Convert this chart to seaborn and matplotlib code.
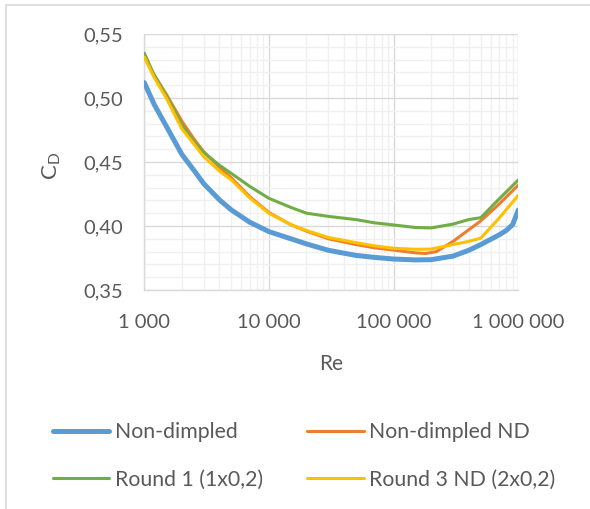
import numpy as np
import pandas as pd
import matplotlib
matplotlib.use("Agg")
import matplotlib.pyplot as plt
import matplotlib.ticker as mticker
from matplotlib.lines import Line2D
import seaborn as sns

# ---- data ----
re_blue = [1000, 1200, 1500, 2000, 2500, 3000, 4000, 5000, 7000, 10000, 15000, 20000, 30000, 50000,
           70000, 100000, 150000, 200000, 300000, 400000, 500000, 700000, 800000, 900000, 1000000]
cd_blue = [0.512, 0.495, 0.478, 0.456, 0.4435, 0.433, 0.4205, 0.4125, 0.403, 0.3956, 0.390, 0.386, 0.381, 0.377,
           0.3755, 0.3742, 0.3735, 0.3737, 0.3765, 0.381, 0.3855, 0.393, 0.3965, 0.401, 0.4125]

re_orange = [1000, 1200, 1500, 2000, 2500, 3000, 4000, 5000, 7000, 10000, 15000, 20000, 30000, 50000,
             70000, 100000, 150000, 180000, 220000, 300000, 400000, 500000, 700000, 1000000]
cd_orange = [0.532, 0.518, 0.503, 0.482, 0.468, 0.458, 0.446, 0.4375, 0.423, 0.4105, 0.401, 0.396, 0.390, 0.3855,
             0.383, 0.3812, 0.379, 0.3785, 0.380, 0.388, 0.397, 0.404, 0.417, 0.432]

re_green = [1000, 1200, 1500, 2000, 2500, 3000, 4000, 5000, 7000, 10000, 15000, 20000, 30000, 50000,
            70000, 100000, 150000, 200000, 300000, 400000, 500000, 700000, 1000000]
cd_green = [0.535, 0.518, 0.502, 0.479, 0.466, 0.4575, 0.4475, 0.441, 0.431, 0.4216, 0.4145, 0.410, 0.4075, 0.405,
            0.4025, 0.4008, 0.3988, 0.3985, 0.4015, 0.405, 0.4065, 0.421, 0.436]

re_yellow = [1000, 1200, 1500, 2000, 2500, 3000, 4000, 5000, 7000, 10000, 15000, 20000, 30000, 50000,
             70000, 100000, 150000, 200000, 300000, 400000, 500000, 700000, 1000000]
cd_yellow = [0.532, 0.516, 0.500, 0.476, 0.464, 0.4541, 0.443, 0.436, 0.422, 0.4099, 0.401, 0.3965, 0.391, 0.387,
             0.3845, 0.3826, 0.3818, 0.382, 0.3855, 0.388, 0.3905, 0.406, 0.424]

series_names = ["Non-dimpled", "Non-dimpled ND", "Round 1 (1x0,2)", "Round 3 ND (2x0,2)"]
x_ticks = [1000, 10000, 100000, 1000000]
x_tick_labels = ["1 000", "10 000", "100 000", "1 000 000"]
y_ticks = [0.35, 0.40, 0.45, 0.50, 0.55]
y_tick_labels = ["0,35", "0,40", "0,45", "0,50", "0,55"]

colors = ["#5B9BD5", "#ED7D31", "#70AD47", "#FFC000"]
widths = [3.6, 2.2, 2.2, 2.2]

sns.set_theme(style="white")
plt.rcParams["font.family"] = ["Lato", "DejaVu Sans"]
plt.rcParams["mathtext.fontset"] = "custom"
plt.rcParams["mathtext.rm"] = "Lato"
plt.rcParams["mathtext.it"] = "Lato"

txt = "#595959"
fig = plt.figure(figsize=(5.9, 5.09), dpi=100)
W, H = 590, 509
ax = fig.add_axes([144.3 / W, 1 - 290 / H, (518.3 - 144.3) / W, (290 - 34) / H])

data = [(re_blue, cd_blue), (re_orange, cd_orange), (re_green, cd_green), (re_yellow, cd_yellow)]
for (xs, ys), name, c, lw in zip(data, series_names, colors, widths):
    df = pd.DataFrame({"Re": xs, "CD": ys})
    sns.lineplot(data=df, x="Re", y="CD", ax=ax, color=c, linewidth=lw,
                 sort=False, estimator=None, solid_capstyle="round", solid_joinstyle="round", zorder=3)

ax.set_xscale("log")
ax.set_xlim(1000, 1000000)
ax.set_ylim(0.35, 0.55)
ax.xaxis.set_major_locator(mticker.FixedLocator(x_ticks))
ax.xaxis.set_major_formatter(mticker.FixedFormatter(x_tick_labels))
ax.xaxis.set_minor_locator(mticker.LogLocator(base=10, subs=np.arange(2, 10)))
ax.xaxis.set_minor_formatter(mticker.NullFormatter())
ax.yaxis.set_major_locator(mticker.FixedLocator(y_ticks))
ax.yaxis.set_major_formatter(mticker.FixedFormatter(y_tick_labels))
ax.yaxis.set_minor_locator(mticker.MultipleLocator(0.01))

ax.grid(True, which="major", color="#d9d9d9", linewidth=1.0, zorder=0)
ax.grid(True, which="minor", color="#f0f0f0", linewidth=1.0, zorder=0)
ax.set_axisbelow(True)

for s in ["top", "right"]:
    ax.spines[s].set_visible(False)
for s in ["left", "bottom"]:
    ax.spines[s].set_color("#d9d9d9")
    ax.spines[s].set_linewidth(1.0)

ax.tick_params(axis="both", which="major", length=5, width=1.0, color="#d9d9d9",
               labelsize=14.5, labelcolor=txt, direction="out")
ax.tick_params(axis="x", which="major", pad=12)
ax.tick_params(axis="y", which="major", pad=10)
ax.tick_params(axis="both", which="minor", length=0)

ax.set_xlabel("Re", fontsize=15, color=txt)
ax.set_ylabel(r"C$_{\mathrm{D}}$", fontsize=16, color=txt)
ax.xaxis.set_label_coords((331 - 144.3) / (518.3 - 144.3), -(354 - 290) / 256)
ax.yaxis.set_label_coords(-(144.3 - 63) / 374, 0.5 - 4 / 256)

handles = [Line2D([], [], color=c, linewidth=lw, solid_capstyle="round") for c, lw in zip(colors, widths)]
order = [0, 2, 1, 3]
leg = fig.legend([handles[i] for i in order], [series_names[i] for i in order],
                 ncol=2, loc="upper left", bbox_to_anchor=(53 / W, 1 - 422 / H),
                 frameon=False, fontsize=15.3, handlelength=2.65, handletextpad=0.25,
                 columnspacing=2.1, labelspacing=1.3, borderpad=0, borderaxespad=0)
for t in leg.get_texts():
    t.set_color(txt)

# chart frame (left and top edges)
fig.add_artist(Line2D([6 / W, 6 / W], [0, 1 - 5 / H], transform=fig.transFigure, color="#d9d9d9", linewidth=1.2))
fig.add_artist(Line2D([6 / W, 1], [1 - 5 / H, 1 - 5 / H], transform=fig.transFigure, color="#d9d9d9", linewidth=1.2))

fig.savefig("out.png", dpi=100)
